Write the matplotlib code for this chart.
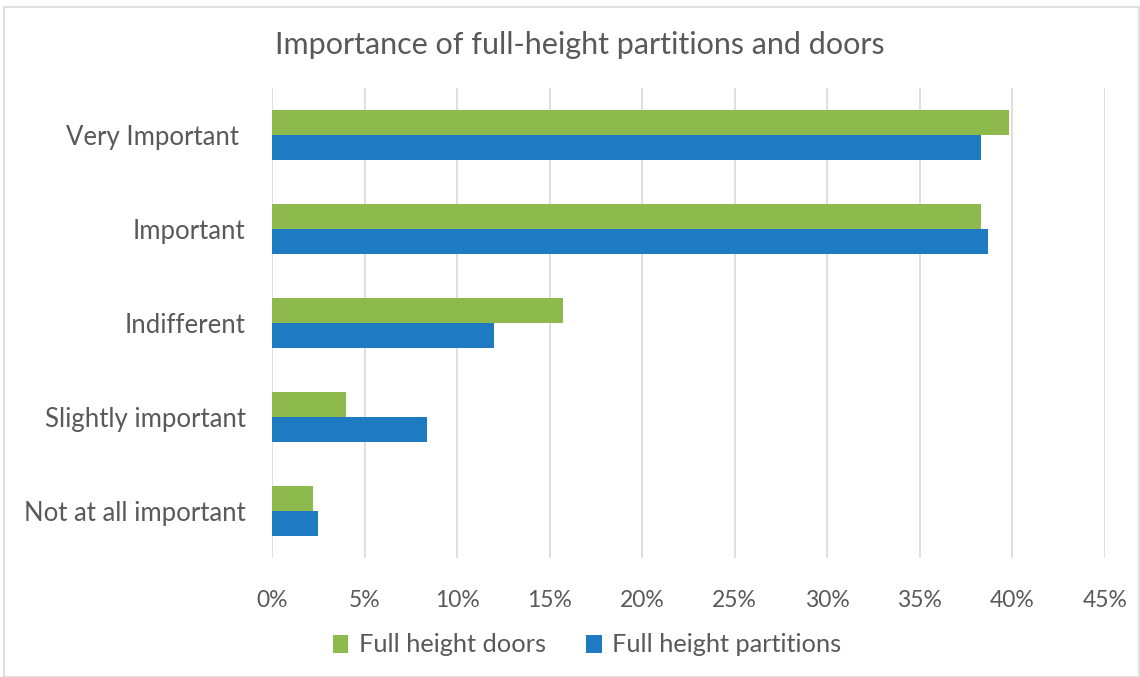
import matplotlib
matplotlib.use("Agg")

import matplotlib.pyplot as plt
import numpy as np
from matplotlib.patches import Rectangle
from matplotlib.ticker import FuncFormatter

plt.rcParams['font.family'] = ['Lato', 'DejaVu Sans']

categories = ["Very Important ", "Important", "Indifferent",
              "Slightly important", "Not at all important"]
doors = [39.8, 38.3, 15.7, 4.0, 2.2]
partitions = [38.3, 38.7, 12.0, 8.4, 2.5]

green = "#8DB94D"
blue = "#1F7BC1"
text_color = "#595959"

fig = plt.figure(figsize=(11.4, 6.77), dpi=100)
ax = fig.add_axes([272 / 1140, 1 - 558 / 677, (1105 - 272) / 1140, (558 - 88) / 677])

y = np.arange(len(categories))
h = 0.265
ax.barh(y - h / 2, doors, height=h, color=green, label="Full height doors")
ax.barh(y + h / 2, partitions, height=h, color=blue, label="Full height partitions")

ax.set_ylim(len(categories) - 0.5, -0.5)
ax.set_yticks(y)
ax.set_yticklabels(categories, fontsize=18.5, color=text_color)
ax.set_xlim(0, 45)
ax.set_xticks(np.arange(0, 46, 5))
ax.xaxis.set_major_formatter(FuncFormatter(lambda v, p: f"{v:.0f}%"))
ax.tick_params(axis="x", labelsize=16.5, colors=text_color, length=0, pad=23)
ax.tick_params(axis="y", length=0, pad=19)

ax.grid(axis="x", color="#D9D9D9", linewidth=1.2)
ax.set_axisbelow(True)
for s in ax.spines.values():
    s.set_visible(False)

fig.text(580 / 1140, 1 - 45 / 677, "Importance of full-height partitions and doors",
         ha="center", va="center", fontsize=22, color=text_color)

ax.legend(loc="center", bbox_to_anchor=(587 / 1140, 1 - 645 / 677),
          bbox_transform=fig.transFigure, ncol=2, frameon=False, fontsize=18.3,
          labelcolor=text_color, handlelength=0.6, handleheight=0.7,
          handletextpad=0.4, columnspacing=1.6)

fig.patches.append(Rectangle((4 / 1140, 0), 1 - 5 / 1140, 1 - 7 / 677,
                             transform=fig.transFigure, fill=False,
                             edgecolor="#D9D9D9", linewidth=1.2))

fig.savefig("out.png", dpi=100)
